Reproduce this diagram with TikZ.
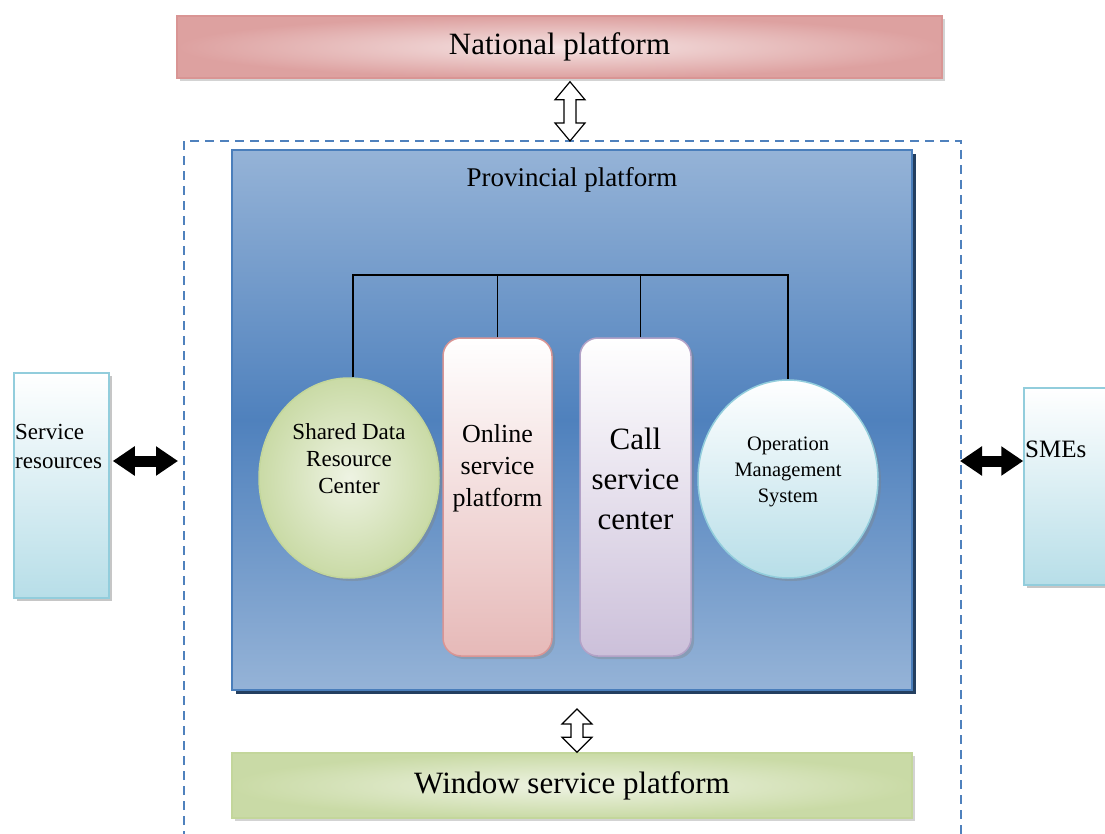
\documentclass[tikz,border=0pt]{standalone}
\usepackage{fontspec}
\setmainfont{Liberation Serif}
\usetikzlibrary{shapes.geometric,shadows,arrows.meta,calc}

\definecolor{natpink}{HTML}{D99594}
\definecolor{natlight}{HTML}{F5E4E4}
\definecolor{dashblue}{HTML}{4F81BD}
\definecolor{provlight}{HTML}{95B3D7}
\definecolor{provmid}{HTML}{4F81BD}
\definecolor{provedge}{HTML}{4A7EBB}
\definecolor{provshadow}{HTML}{243F60}
\definecolor{greenmid}{HTML}{C3D69B}
\definecolor{greenlight}{HTML}{EEF3E3}
\definecolor{onlinebot}{HTML}{E6B9B8}
\definecolor{callbot}{HTML}{CCC0DA}
\definecolor{calledge}{HTML}{B3A2C7}
\definecolor{aquabot}{HTML}{B7DEE8}
\definecolor{aquaedge}{HTML}{92CDDC}

\tikzset{
  softshadow/.style={drop shadow={shadow xshift=3pt,shadow yshift=-3pt,opacity=0.35}},
  platbox/.style={draw, line width=1.5pt, softshadow, node font=\fontsize{31}{37}\selectfont},
  greenfill/.style={draw=greenmid, inner color=greenlight, outer color=greenmid!85!greenlight},
  pillar/.style={draw, line width=1.5pt, rounded corners=18pt, top color=white, softshadow},
  sidebox/.style={draw=aquaedge, line width=1.5pt, top color=white, bottom color=aquabot,
    drop shadow={shadow xshift=3pt,shadow yshift=-3pt,opacity=0.45}},
  busline/.style={draw=black, line width=1.2pt},
  fatarrow/.style={line width=11pt, {Triangle[length=22pt,width=28pt]}-{Triangle[length=22pt,width=28pt]}},
  hollowarr/.style={draw=black, fill=white, line width=1.2pt, line join=miter},
  dashline/.style={draw=dashblue, line width=2pt, dash pattern=on 9pt off 6pt}
}

% hollow up/down arrow between two points: top, bottom, head length
\newcommand{\hollowarrow}[3]{%
  \draw[hollowarr] let \p1=(#1), \p2=(#2) in
    (\x1,\y1) -- (\x1+15pt,\y1-#3) -- (\x1+6pt,\y1-#3) -- (\x1+6pt,\y2+#3) -- (\x1+15pt,\y2+#3)
    -- (\x1,\y2) -- (\x1-15pt,\y2+#3) -- (\x1-6pt,\y2+#3) -- (\x1-6pt,\y1-#3) -- (\x1-15pt,\y1-#3) -- cycle;}

\begin{document}
\begin{tikzpicture}[x=1pt,y=-1pt]
  \useasboundingbox (0,0) rectangle (1105,834);

  % National platform
  \node[platbox, draw=natpink, inner color=natlight, outer color=natpink!85!natlight,
    minimum width=765, minimum height=62] (nat) at (559.5,47) {National platform};

  % dashed frame, open at the bottom
  \draw[dashline] (184,840) -- (184,141) -- (961,141) -- (961,840);
  \coordinate (dashT) at (570,141);
  \coordinate (dashL) at (178,461);
  \coordinate (dashR) at (960,461);
  \coordinate (lrow) at (0,461);

  % Provincial platform
  \node[draw=provedge, line width=1.5pt, top color=provlight, bottom color=provlight, middle color=provmid,
    minimum width=680, minimum height=540,
    drop shadow={shadow xshift=4pt,shadow yshift=-4pt,fill=provshadow,opacity=1}] (prov) at (572,420) {};
  \node[font=\fontsize{27}{32}\selectfont] (provtitle) at (572,180) {Provincial platform};

  % parts of the provincial platform
  \node[ellipse, line width=1.5pt, greenfill, softshadow, minimum width=180, minimum height=200] (shared) at (349,478) {};
  \node[pillar, draw=natpink, bottom color=onlinebot, minimum width=109, minimum height=318] (online) at (497.5,497) {};
  \node[pillar, draw=calledge, bottom color=callbot, minimum width=111, minimum height=318] (call) at (635.5,497) {};
  \node[ellipse, draw=aquaedge, line width=1.5pt, top color=white, bottom color=aquabot, softshadow,
    minimum width=180, minimum height=198] (ops) at (788,479) {};

  \node[align=center, font=\fontsize{23}{27}\selectfont] (sharedtext) at ($(shared.center)+(0,-19)$) {Shared Data\\Resource\\Center};
  \node[align=center, font=\fontsize{26}{32}\selectfont] (onlinetext) at ($(online.center)+(0,-29)$) {Online\\service\\platform};
  \node[align=center, font=\fontsize{31}{40}\selectfont] (calltext) at ($(call.center)+(0,-18)$) {Call\\service\\center};
  \node[align=center, font=\fontsize{20.5}{26}\selectfont] (opstext) at ($(ops.center)+(0,-7)$) {Operation\\Management\\System};

  % bus on top
  \coordinate (bus) at (0,275);
  \draw[busline] ($(shared.north)+(4,0)$) -- ($(shared.north |- bus)+(4,0)$) -- (ops.north |- bus) -- (ops.north);
  \draw[busline] (online.north) -- (online.north |- bus);
  \draw[busline] ($(call.north)+(5,0)$) -- ($(call.north |- bus)+(5,0)$);

  % side boxes
  \node[sidebox, minimum width=95, minimum height=225] (res) at (61.5,485.5) {};
  \node[anchor=west, align=left, inner sep=0pt, font=\fontsize{23}{29}\selectfont] (restext) at (15,446.5) {Service\\resources};
  \node[sidebox, minimum width=86, minimum height=197] (smes) at (1067,486.5) {};
  \node[anchor=west, inner sep=0pt, font=\fontsize{25}{30}\selectfont] (smestext) at (1025,449) {SMEs};

  \draw[fatarrow] ($(res.east |- lrow)+(3,0)$) -- (dashL);
  \draw[fatarrow] (dashR) -- (smes.west |- lrow);

  % Window service platform
  \node[platbox, greenfill, minimum width=680, minimum height=65] (win) at (572,785.5) {Window service platform};

  % hollow arrows
  \coordinate (winarr) at (577,709);
  \hollowarrow{$(nat.south -| dashT)+(0,3)$}{dashT}{18pt}
  \hollowarrow{winarr}{win.north -| winarr}{15pt}
\end{tikzpicture}
\end{document}
